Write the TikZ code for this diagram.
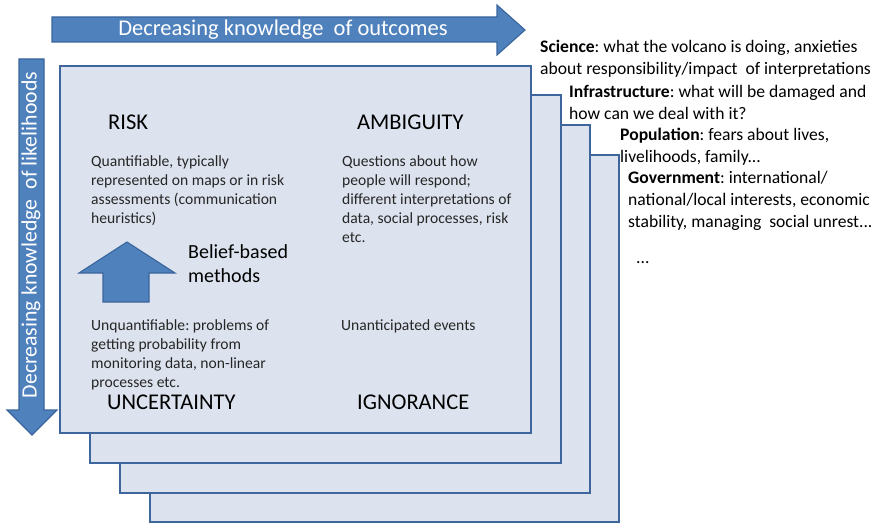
\documentclass[tikz,border=0pt]{standalone}
\usepackage{fontspec}
\setmainfont{Carlito}
\frenchspacing
\definecolor{arrowblue}{HTML}{4F81BD}
\definecolor{arrowedge}{HTML}{3A659C}
\definecolor{panelfill}{HTML}{DCE3EE}
\definecolor{paneledge}{HTML}{3E659C}
\definecolor{bodytext}{HTML}{262626}
\tikzset{
  panel/.style={draw=paneledge, line width=2.4pt, fill=panelfill},
  bigarrow/.style={fill=arrowblue, draw=arrowedge, line width=1.1pt, line join=miter},
  arrowlabel/.style={text=white, inner sep=0pt, font=\fontsize{22.5}{26}\selectfont},
  heading/.style={anchor=base west, inner sep=0pt, text=black, font=\fontsize{22.5}{26}\selectfont},
  boxnote/.style={anchor=north west, inner sep=0pt, align=left, text=bodytext, font=\fontsize{15.6}{19}\selectfont},
  actor/.style={anchor=north west, inner sep=0pt, align=left, text=black, font=\fontsize{17.6}{22}\selectfont}
}
\begin{document}
\begin{tikzpicture}[x=1pt,y=-1pt]
\useasboundingbox (0,0) rectangle (880,524);

% stacked panels, back to front
\draw[panel] (150,155) rectangle (619,522);
\draw[panel] (120,125) rectangle (590,493);
\draw[panel] (90,95) rectangle (561,463);
\draw[panel] (60,66) rectangle (531,433);

% horizontal arrow: knowledge of outcomes
\draw[bigarrow] (52,17) -- (497,17) -- (497,5) -- (525,30) -- (497,55) -- (497,42) -- (52,42) -- cycle;
\node[arrowlabel] (outcomes) at (283,30) {Decreasing knowledge\ \ of outcomes};

% vertical arrow: knowledge of likelihoods
\draw[bigarrow] (19,59) -- (44,59) -- (44,410) -- (57,410) -- (32,435) -- (7,410) -- (19,410) -- cycle;
\node[arrowlabel, rotate=90, font=\fontsize{21.8}{26}\selectfont] (likelihoods) at (31,235) {Decreasing knowledge\ \ of likelihoods};

% small upward arrow
\draw[bigarrow] (127,242) -- (175,273) -- (149,273) -- (149,302) -- (103,302) -- (103,273) -- (79,273) -- cycle;
\node[anchor=north west, inner sep=0pt, align=left, font=\fontsize{20}{24}\selectfont] (belief) at (188,244) {Belief-based\\methods};

% quadrant headings
\node[heading] (risk) at (108,129) {RISK};
\node[heading] (ambiguity) at (357,129) {AMBIGUITY};
\node[heading] (uncertainty) at (107,409) {UNCERTAINTY};
\node[heading] (ignorance) at (357,409) {IGNORANCE};

% quadrant notes
\node[boxnote] (risknote) at (91,155) {Quantifiable, typically\\represented on maps or in risk\\assessments (communication\\heuristics)};
\node[boxnote] (ambnote) at (342,155) {Questions about how\\people will respond;\\different interpretations of\\data, social processes, risk\\etc.};
\node[boxnote] (uncnote) at (91,319) {Unquantifiable: problems of\\getting probability from\\monitoring data, non-linear\\processes etc.};
\node[boxnote] (ignnote) at (341,319) {Unanticipated events};

% stakeholder concerns, one per panel
\node[actor] (science) at (540,40) {\textbf{Science}: what the volcano is doing, anxieties\\about responsibility/impact\ \ of interpretations};
\node[actor] (infra) at (569,85) {\textbf{Infrastructure}: what will be damaged and\\how can we deal with it?};
\node[actor] (population) at (620,128) {\textbf{Population}: fears about lives,\\livelihoods, family...};
\node[actor] (government) at (628,171) {\textbf{Government}: international/\\national/local interests, economic\\stability, managing\ \ social unrest...};
\node[actor] (more) at (636,261) {...};
\end{tikzpicture}
\end{document}
